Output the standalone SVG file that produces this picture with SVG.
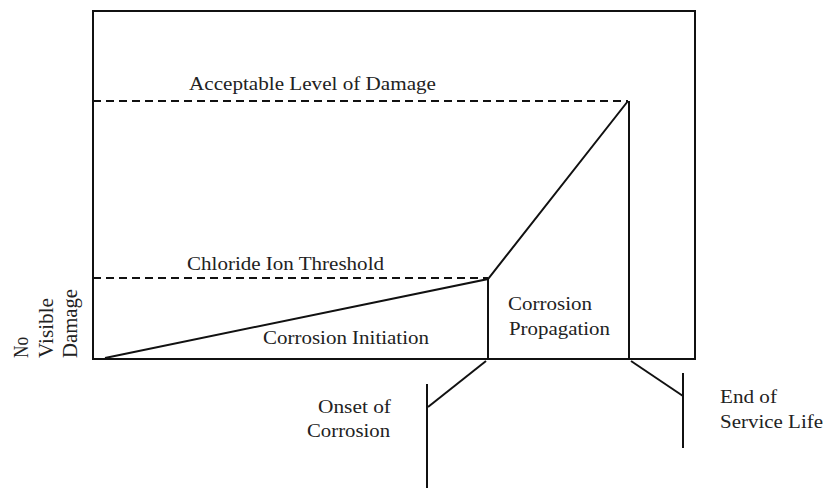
<svg xmlns="http://www.w3.org/2000/svg" width="829" height="489" viewBox="0 0 829 489">
<style>
.t{font-family:"Liberation Serif","Times New Roman",serif;font-size:18px;fill:#222}
.r{font-size:21px}
.s{stroke:#111;stroke-width:2;fill:none}
.d{stroke:#111;stroke-width:2;fill:none;stroke-dasharray:8 5}
</style>
<rect width="829" height="489" fill="#fff"/>
<g id="frame"><rect class="s" x="93" y="11" width="602" height="348"/></g>
<g id="connectors">
<path class="d" d="M93 101H628"/>
<path class="d" d="M93 278H488"/>
<path class="s" d="M105 358L488 279L628 101"/>
<path class="s" d="M488 279V359"/>
<path class="s" d="M629 101V359"/>
<path class="s" d="M486 361L428 407"/>
<path class="s" d="M427 384V488"/>
<path class="s" d="M631 361L683 396"/>
<path class="s" d="M683 373V448"/>
</g>
<g id="acceptable"><text class="t" x="189" y="90" textLength="247" lengthAdjust="spacingAndGlyphs">Acceptable Level of Damage</text></g>
<g id="chloride"><text class="t" x="187" y="270" textLength="197" lengthAdjust="spacingAndGlyphs">Chloride Ion Threshold</text></g>
<g id="initiation"><text class="t" x="263" y="344" textLength="166" lengthAdjust="spacingAndGlyphs">Corrosion Initiation</text></g>
<g id="propagation">
<text class="t" x="508" y="310" textLength="84" lengthAdjust="spacingAndGlyphs">Corrosion</text>
<text class="t" x="509" y="335" textLength="101" lengthAdjust="spacingAndGlyphs">Propagation</text>
</g>
<g id="onset">
<text class="t" x="318" y="413" textLength="73" lengthAdjust="spacingAndGlyphs">Onset of</text>
<text class="t" x="307" y="437" textLength="83" lengthAdjust="spacingAndGlyphs">Corrosion</text>
</g>
<g id="end">
<text class="t" x="720" y="403" textLength="57" lengthAdjust="spacingAndGlyphs">End of</text>
<text class="t" x="720" y="428" textLength="103" lengthAdjust="spacingAndGlyphs">Service Life</text>
</g>
<g id="novisible">
<text class="t r" transform="translate(28 358) rotate(-90)" x="0" y="0" textLength="21" lengthAdjust="spacingAndGlyphs">No</text>
<text class="t r" transform="translate(53 358) rotate(-90)" x="0" y="0" textLength="60" lengthAdjust="spacingAndGlyphs">Visible</text>
<text class="t r" transform="translate(77 358) rotate(-90)" x="0" y="0" textLength="69" lengthAdjust="spacingAndGlyphs">Damage</text>
</g>
</svg>
